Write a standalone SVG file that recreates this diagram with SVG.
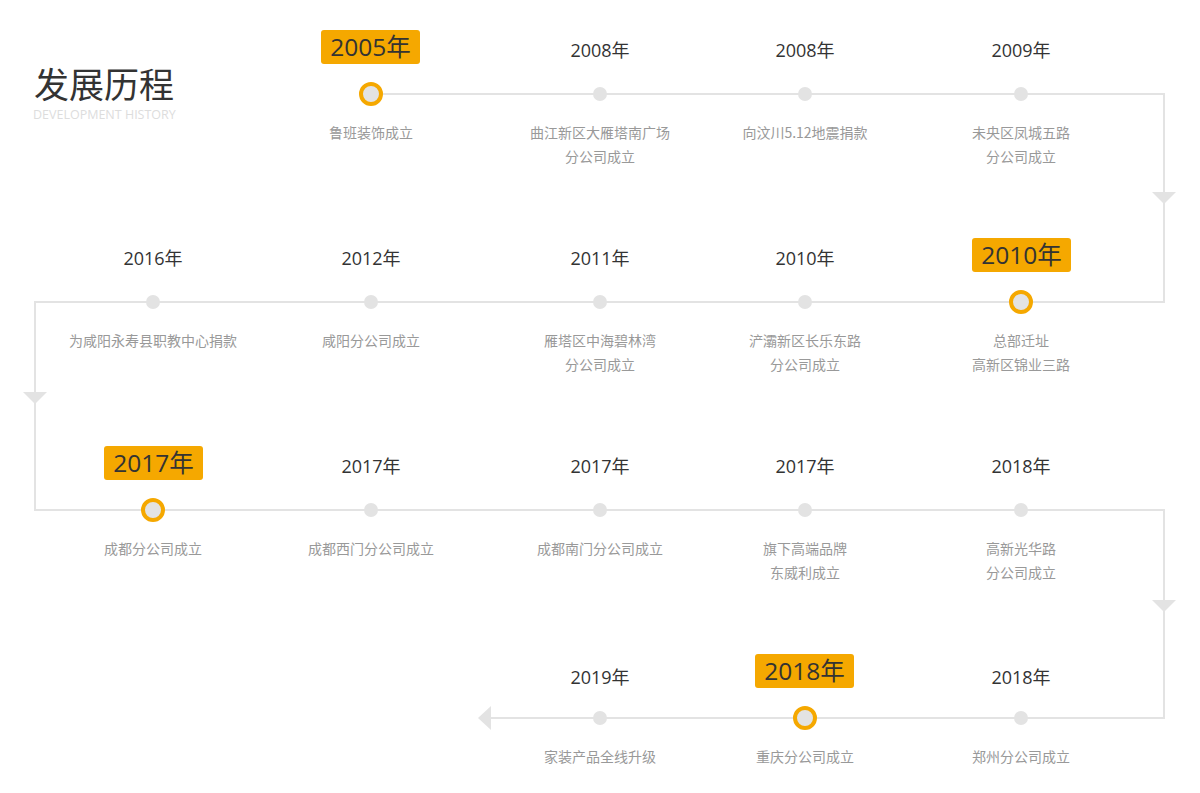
<svg xmlns="http://www.w3.org/2000/svg" width="1200" height="793" viewBox="0 0 1200 793">
<style>
.bg{fill:#ffffff}
.ln{fill:none;stroke:#e3e3e3;stroke-width:2}
.tri{fill:#e3e3e3}
.dot{fill:#e3e3e3}
.hl{fill:#e3e3e3;stroke:#f5a800;stroke-width:4}
.box{fill:#f5a800}
.yr{font-family:"Open Sans","Noto Sans CJK SC",sans-serif;font-size:18px;fill:#333333;text-anchor:middle}
.yrh{font-family:"Open Sans","Noto Sans CJK SC",sans-serif;font-size:24.5px;fill:#333333;text-anchor:middle}
.ds{font-family:"Noto Sans CJK SC",sans-serif;font-size:14px;fill:#999999;text-anchor:middle}
.tt{font-family:"Noto Sans CJK SC",sans-serif;font-size:35px;fill:#333333}
.st{font-family:"Open Sans","Noto Sans",sans-serif;font-size:12.5px;fill:#dddddd}
</style>
<rect class="bg" x="0" y="0" width="1200" height="793"/>
<g id="title">
<text class="tt" x="34" y="98">发展历程</text>
<text class="st" x="33" y="119">DEVELOPMENT HISTORY</text>
</g>
<g id="connectors">
<path class="ln" d="M371 94 H1164 V302 H35 V510 H1164 V718 H490"/>
<polygon class="tri" points="1152,192 1176,192 1164,204"/>
<polygon class="tri" points="23,392 47,392 35,404"/>
<polygon class="tri" points="1152,600 1176,600 1164,612"/>
<polygon class="tri" points="478,718 491,706 491,730"/>
</g>
<g id="n2005">
<rect class="box" x="321" y="30" width="99" height="34" rx="3"/>
<text class="yrh" x="370.5" y="56">2005年</text>
<circle class="hl" cx="371" cy="94" r="10"/>
<text class="ds" x="371" y="138">鲁班装饰成立</text>
</g>
<g id="n2008a">
<text class="yr" x="600" y="57">2008年</text>
<circle class="dot" cx="600" cy="94" r="7"/>
<text class="ds" x="600" y="138">曲江新区大雁塔南广场</text>
<text class="ds" x="600" y="162">分公司成立</text>
</g>
<g id="n2008b">
<text class="yr" x="805" y="57">2008年</text>
<circle class="dot" cx="805" cy="94" r="7"/>
<text class="ds" x="805" y="138">向汶川5.12地震捐款</text>
</g>
<g id="n2009">
<text class="yr" x="1021" y="57">2009年</text>
<circle class="dot" cx="1021" cy="94" r="7"/>
<text class="ds" x="1021" y="138">未央区凤城五路</text>
<text class="ds" x="1021" y="162">分公司成立</text>
</g>
<g id="n2010h">
<rect class="box" x="972" y="238" width="99" height="34" rx="3"/>
<text class="yrh" x="1021.5" y="264">2010年</text>
<circle class="hl" cx="1021" cy="302" r="10"/>
<text class="ds" x="1021" y="346">总部迁址</text>
<text class="ds" x="1021" y="370">高新区锦业三路</text>
</g>
<g id="n2010">
<text class="yr" x="805" y="265">2010年</text>
<circle class="dot" cx="805" cy="302" r="7"/>
<text class="ds" x="805" y="346">浐灞新区长乐东路</text>
<text class="ds" x="805" y="370">分公司成立</text>
</g>
<g id="n2011">
<text class="yr" x="600" y="265">2011年</text>
<circle class="dot" cx="600" cy="302" r="7"/>
<text class="ds" x="600" y="346">雁塔区中海碧林湾</text>
<text class="ds" x="600" y="370">分公司成立</text>
</g>
<g id="n2012">
<text class="yr" x="371" y="265">2012年</text>
<circle class="dot" cx="371" cy="302" r="7"/>
<text class="ds" x="371" y="346">咸阳分公司成立</text>
</g>
<g id="n2016">
<text class="yr" x="153" y="265">2016年</text>
<circle class="dot" cx="153" cy="302" r="7"/>
<text class="ds" x="153" y="346">为咸阳永寿县职教中心捐款</text>
</g>
<g id="n2017h">
<rect class="box" x="104" y="446" width="99" height="34" rx="3"/>
<text class="yrh" x="153.5" y="472">2017年</text>
<circle class="hl" cx="153" cy="510" r="10"/>
<text class="ds" x="153" y="554">成都分公司成立</text>
</g>
<g id="n2017a">
<text class="yr" x="371" y="473">2017年</text>
<circle class="dot" cx="371" cy="510" r="7"/>
<text class="ds" x="371" y="554">成都西门分公司成立</text>
</g>
<g id="n2017b">
<text class="yr" x="600" y="473">2017年</text>
<circle class="dot" cx="600" cy="510" r="7"/>
<text class="ds" x="600" y="554">成都南门分公司成立</text>
</g>
<g id="n2017c">
<text class="yr" x="805" y="473">2017年</text>
<circle class="dot" cx="805" cy="510" r="7"/>
<text class="ds" x="805" y="554">旗下高端品牌</text>
<text class="ds" x="805" y="578">东威利成立</text>
</g>
<g id="n2018a">
<text class="yr" x="1021" y="473">2018年</text>
<circle class="dot" cx="1021" cy="510" r="7"/>
<text class="ds" x="1021" y="554">高新光华路</text>
<text class="ds" x="1021" y="578">分公司成立</text>
</g>
<g id="n2018b">
<text class="yr" x="1021" y="684">2018年</text>
<circle class="dot" cx="1021" cy="718" r="7"/>
<text class="ds" x="1021" y="762">郑州分公司成立</text>
</g>
<g id="n2018h">
<rect class="box" x="755" y="654" width="99" height="34" rx="3"/>
<text class="yrh" x="804.5" y="680">2018年</text>
<circle class="hl" cx="805" cy="718" r="10"/>
<text class="ds" x="805" y="762">重庆分公司成立</text>
</g>
<g id="n2019">
<text class="yr" x="600" y="684">2019年</text>
<circle class="dot" cx="600" cy="718" r="7"/>
<text class="ds" x="600" y="762">家装产品全线升级</text>
</g>
</svg>
